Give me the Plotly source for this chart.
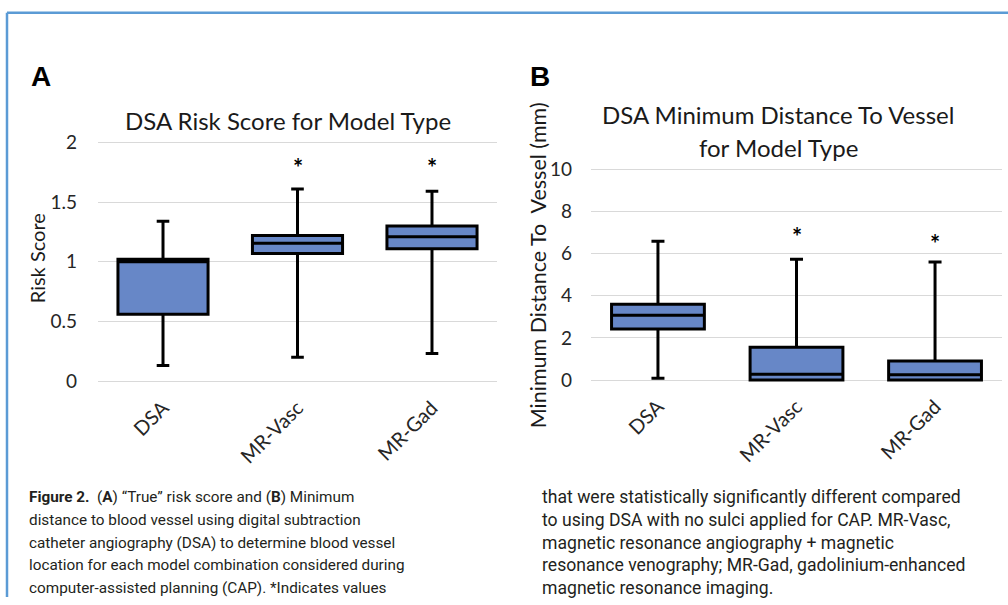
import plotly.graph_objects as go

W, H = 1008, 605

# ---------------- data ----------------
categories = ["DSA", "MR-Vasc", "MR-Gad"]

# Panel A: risk score
a_q1 = [0.56, 1.07, 1.11]
a_median = [1.00, 1.155, 1.21]
a_q3 = [1.02, 1.22, 1.30]
a_low = [0.13, 0.20, 0.23]
a_high = [1.34, 1.61, 1.59]
a_star_cats = ["MR-Vasc", "MR-Gad"]
a_star_y = [1.79, 1.79]
a_ticks = [0, 0.5, 1, 1.5, 2]
a_ticklabels = ["0", "0.5", "1", "1.5", "2"]

# Panel B: minimum distance to vessel (mm)
b_q1 = [2.42, 0.0, 0.0]
b_median = [3.08, 0.28, 0.25]
b_q3 = [3.60, 1.56, 0.90]
b_low = [0.09, 0.0, 0.0]
b_high = [6.59, 5.74, 5.60]
b_star_cats = ["MR-Vasc", "MR-Gad"]
b_star_y = [6.8, 6.5]
b_ticks = [0, 2, 4, 6, 8, 10]
b_ticklabels = ["0", "2", "4", "6", "8", "10"]

caption_left = [
    "<b>Figure 2.</b>  (<b>A</b>) \u201cTrue\u201d risk score and (<b>B</b>) Minimum",
    "distance to blood vessel using digital subtraction",
    "catheter angiography (DSA) to determine blood vessel",
    "location for each model combination considered during",
    "computer-assisted planning (CAP). *Indicates values",
]
caption_right = [
    "that were statistically significantly different compared",
    "to using DSA with no sulci applied for CAP. MR-Vasc,",
    "magnetic resonance angiography + magnetic",
    "resonance venography; MR-Gad, gadolinium-enhanced",
    "magnetic resonance imaging.",
]

# ---------------- style ----------------
FILL = "rgb(103,135,199)"
GRID = "#d9d9d9"
FONT = "Lato, 'Open Sans', sans-serif"
CAP_FONT = "'Liberation Sans Narrow', 'Arial Narrow', Roboto, sans-serif"
BORDER = "#5b9bd5"

# vertical calibration observed for the capture
VS, VO = 0.972, 7.3


def px_x(p):
    return p / W


def px_y(p):
    return 1 - ((p - VO) / VS) / H


def ydomain(v0, p0, v1, p1, lo, hi):
    k = (p1 - p0) / (v1 - v0)
    top = p0 + (hi - v0) * k
    bot = p0 + (lo - v0) * k
    return [px_y(bot), px_y(top)]


a_range = [-0.02, 2.02]
b_range = [-0.1, 10.1]

fig = go.Figure()

box_common = dict(
    fillcolor=FILL,
    line=dict(color="black", width=3),
    whiskerwidth=0.14,
    width=0.67,
    boxpoints=False,
    showlegend=False,
    hoverinfo="skip",
)

fig.add_trace(go.Box(
    x=categories, q1=a_q1, median=a_median, q3=a_q3,
    lowerfence=a_low, upperfence=a_high,
    xaxis="x", yaxis="y", **box_common))

fig.add_trace(go.Box(
    x=categories, q1=b_q1, median=b_median, q3=b_q3,
    lowerfence=b_low, upperfence=b_high,
    xaxis="x2", yaxis="y2", **box_common))

axis_font = dict(family=FONT, size=19, color="#262626")
xtick_font = dict(family=FONT, size=20, color="#262626")

fig.update_layout(
    width=W, height=H,
    margin=dict(l=0, r=0, t=0, b=0),
    paper_bgcolor="white", plot_bgcolor="white",
    xaxis=dict(domain=[px_x(98), px_x(497)], anchor="y",
               categoryorder="array", categoryarray=categories,
               tickangle=-45, tickfont=xtick_font, showgrid=False,
               showline=False, ticks="", zeroline=False,
               ticklabelstandoff=8),
    yaxis=dict(domain=ydomain(0, 379, 2, 140, *a_range), anchor="x",
               range=a_range, tickvals=a_ticks, ticktext=a_ticklabels,
               tickfont=axis_font, showgrid=True, gridcolor=GRID, gridwidth=1.2,
               zeroline=False, showline=False, ticks="",
               ticklabelstandoff=20),
    xaxis2=dict(domain=[px_x(591), px_x(1002)], anchor="y2",
                categoryorder="array", categoryarray=categories,
                tickangle=-45, tickfont=xtick_font, showgrid=False,
                showline=False, ticks="", zeroline=False,
                ticklabelstandoff=8),
    yaxis2=dict(domain=ydomain(0, 378, 10, 167, *b_range), anchor="x2",
                range=b_range, tickvals=b_ticks, ticktext=b_ticklabels,
                tickfont=axis_font, showgrid=True, gridcolor=GRID, gridwidth=1.2,
                zeroline=False, showline=False, ticks="",
                ticklabelstandoff=18),
)

ann = []


def pa(text, x, y, size, family=FONT, color="#1a1a1a", xanchor="center",
       yanchor="middle", angle=0):
    ann.append(dict(text=text, x=px_x(x), y=px_y(y), xref="paper", yref="paper",
                    showarrow=False, xanchor=xanchor, yanchor=yanchor,
                    textangle=angle,
                    font=dict(family=family, size=size, color=color)))


# panel letters
pa("<b>A</b>", 29, 74, 28, family="'Liberation Sans', Arial, sans-serif",
   color="black", xanchor="left")
pa("<b>B</b>", 528, 74, 28, family="'Liberation Sans', Arial, sans-serif",
   color="black", xanchor="left")

# chart titles
pa("DSA Risk Score for Model Type", 288, 118, 24)
pa("DSA Minimum Distance To Vessel", 778, 112, 24)
pa("for Model Type", 778, 145, 24)

# y axis titles
pa("Risk Score", 37, 256, 20, angle=-90)
pa("Minimum Distance To\u00a0 Vessel (mm)", 538, 263, 21.5, angle=-90)

# asterisks
for c, v in zip(a_star_cats, a_star_y):
    ann.append(dict(text="<b>*</b>", x=c, y=v, xref="x", yref="y",
                    showarrow=False, font=dict(family=FONT, size=24, color="black")))
for c, v in zip(b_star_cats, b_star_y):
    ann.append(dict(text="<b>*</b>", x=c, y=v, xref="x2", yref="y2",
                    showarrow=False, font=dict(family=FONT, size=24, color="black")))

# caption
line_y = [495, 518, 541, 563, 586]
for t, y in zip(caption_left, line_y):
    pa(t, 27, y, 15.3, family=CAP_FONT, color="#231f20", xanchor="left")
for t, y in zip(caption_right, line_y):
    pa(t, 540, y, 17.6, family=CAP_FONT, color="#231f20", xanchor="left")

fig.update_layout(annotations=ann)

# border (top and left edges)
fig.add_shape(type="line", xref="paper", yref="paper",
              x0=px_x(7), y0=px_y(10), x1=1.0, y1=px_y(10),
              line=dict(color=BORDER, width=2.5))
fig.add_shape(type="line", xref="paper", yref="paper",
              x0=px_x(7), y0=px_y(10), x1=px_x(7), y1=0,
              line=dict(color=BORDER, width=2.5))

fig.write_html(
    "out.html",
    config={"displayModeBar": False},
    post_script="document.body.style.margin='0';document.body.style.overflow='hidden';",
)
